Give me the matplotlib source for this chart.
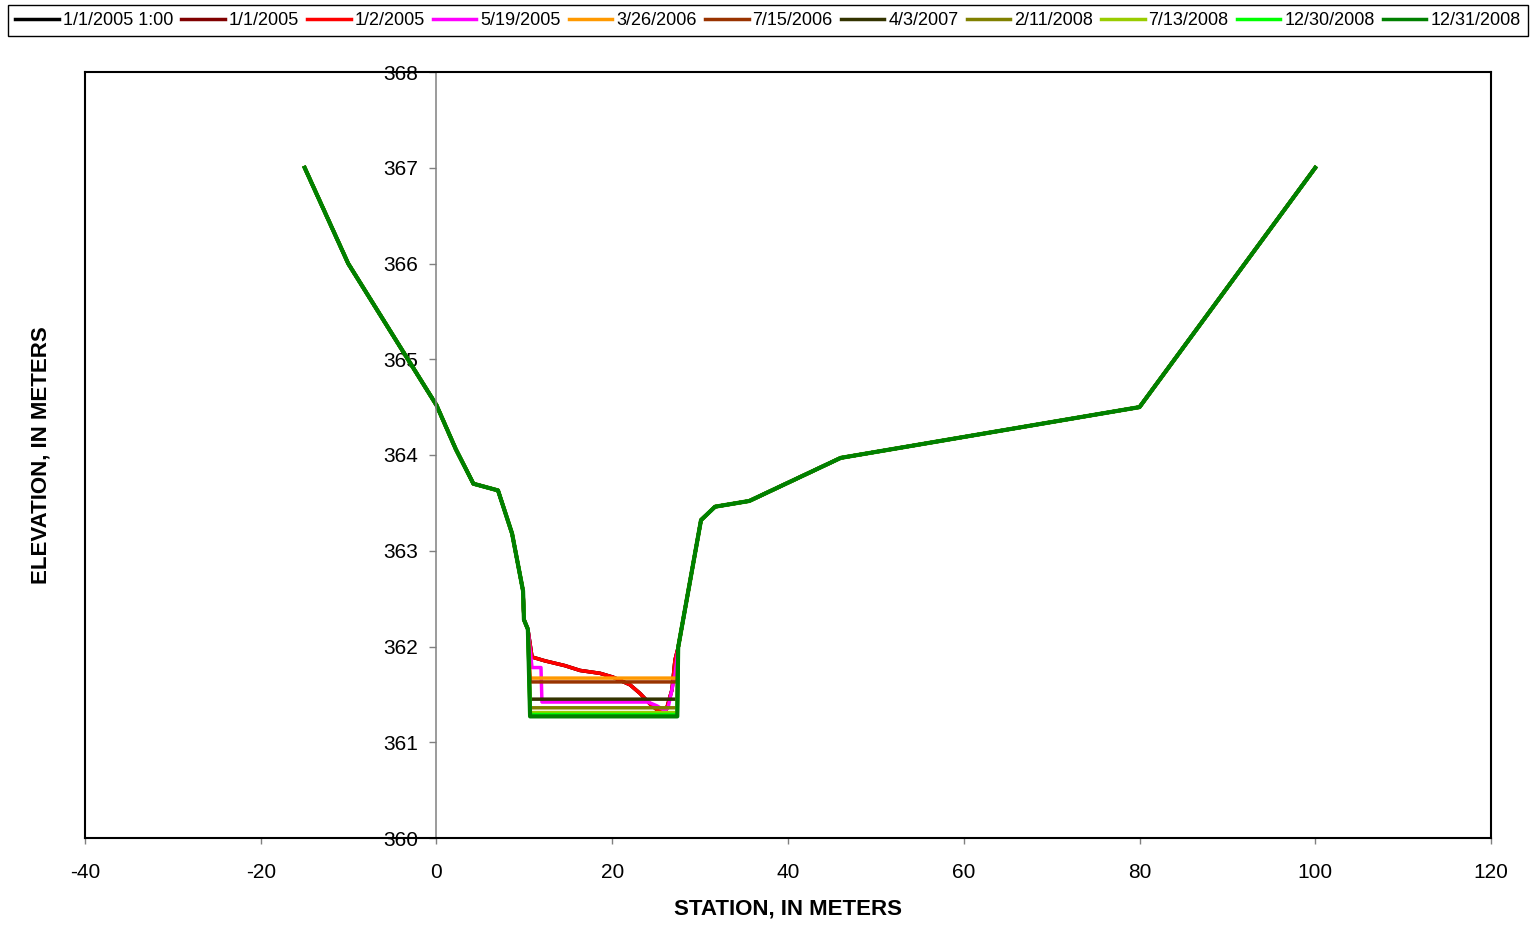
import matplotlib
matplotlib.use('Agg')
import matplotlib.pyplot as plt
from matplotlib.lines import Line2D

plt.rcParams['font.family'] = ['Liberation Sans', 'DejaVu Sans']
plt.rcParams['axes.unicode_minus'] = False

labels = ['1/1/2005 1:00', '1/1/2005', '1/2/2005', '5/19/2005', '3/26/2006',
          '7/15/2006', '4/3/2007', '2/11/2008', '7/13/2008', '12/30/2008', '12/31/2008']
colors = ['#000000', '#800000', '#FF0000', '#FF00FF', '#FF9900',
          '#993300', '#333300', '#808000', '#99CC00', '#00FF00', '#008000']

# Common banks
left_bank_x = [-15, -10.05, 0, 2.2, 4.2, 7.0, 8.6, 9.85, 9.95, 10.4]
left_bank_y = [367, 366.0, 364.52, 364.06, 363.70, 363.63, 363.18, 362.58, 362.28, 362.18]
right_bank_x = [27.5, 30.1, 31.7, 35.6, 46.0, 80, 100]
right_bank_y = [361.99, 363.32, 363.46, 363.52, 363.97, 364.5, 367]

# Channel bottoms
sloped_x = [10.87, 12.35, 14.62, 16.33, 18.61, 20.09, 22.02, 23.16, 24.30, 25.21, 26.12, 26.80, 27.14]
sloped_y = [361.89, 361.85, 361.80, 361.75, 361.72, 361.68, 361.60, 361.51, 361.40, 361.33, 361.33, 361.55, 361.86]
magenta_x = [10.87, 11.89, 12.0, 24.07, 25.09, 26.0, 26.35, 26.80, 27.14]
magenta_y = [361.78, 361.78, 361.42, 361.42, 361.38, 361.33, 361.36, 361.55, 361.70]
flat_x = [10.65, 27.4]
flat_levels = [361.67, 361.63, 361.45, 361.36, 361.31, 361.29, 361.27]

bottoms = [(sloped_x, sloped_y), (sloped_x, sloped_y), (sloped_x, sloped_y),
           (magenta_x, magenta_y)] + [(flat_x, [lv, lv]) for lv in flat_levels]

x_ticks = [-40, -20, 0, 20, 40, 60, 80, 100, 120]
y_ticks = [360, 361, 362, 363, 364, 365, 366, 367, 368]

fig = plt.figure(figsize=(15.33, 9.27), dpi=100)
ax = fig.add_axes([85/1533, 89/927, 1406/1533, 766/927])

handles = []
for i, (lab, col) in enumerate(zip(labels, colors)):
    bx, by = bottoms[i]
    xs = left_bank_x + list(bx) + right_bank_x
    ys = left_bank_y + list(by) + right_bank_y
    lw = 3.0 if i == len(labels) - 1 else 2.5
    ln, = ax.plot(xs, ys, color=col, lw=lw, label=lab, solid_joinstyle='round', zorder=2 + i * 0.01)
    handles.append(ln)

ax.set_xlim(-40, 120)
ax.set_ylim(360, 368)
ax.set_xticks(x_ticks)
ax.set_yticks(y_ticks)
ax.tick_params(axis='x', direction='out', length=4, width=1, color='#808080', labelsize=15, pad=14)
ax.tick_params(axis='y', direction='out', length=5, width=1, color='#808080', labelsize=15, pad=8)

ax.spines['left'].set_position(('data', 0))
ax.spines['left'].set_color('#808080')
ax.spines['left'].set_linewidth(1.1)
for s in ['top', 'right', 'bottom']:
    ax.spines[s].set_color('black')
    ax.spines[s].set_linewidth(1.5)
ax.add_line(Line2D([0, 0], [0, 1], transform=ax.transAxes, color='black', lw=1.5, clip_on=False))

ax.set_xlabel('STATION, IN METERS', fontsize=16, fontweight='bold')
ax.xaxis.set_label_coords(0.5, -0.0927)
ax.xaxis.label.set_va('center')
ax.set_ylabel('ELEVATION, IN METERS', fontsize=16, fontweight='bold')
ax.yaxis.set_label_coords(-0.031, 0.5)
ax.yaxis.label.set_va('center')

leg = fig.legend(handles=handles, labels=labels, loc='upper center', ncol=11,
                 bbox_to_anchor=(768/1533, 1 - 5/927),
                 fontsize=13, handlelength=2.4, handletextpad=0.22, columnspacing=0.46,
                 borderaxespad=0, borderpad=0.4, frameon=True, fancybox=False,
                 edgecolor='black', framealpha=1)
leg.get_frame().set_linewidth(1.0)
for lh in leg.get_lines():
    lh.set_linewidth(2.5)

fig.savefig('out.png', dpi=100)
